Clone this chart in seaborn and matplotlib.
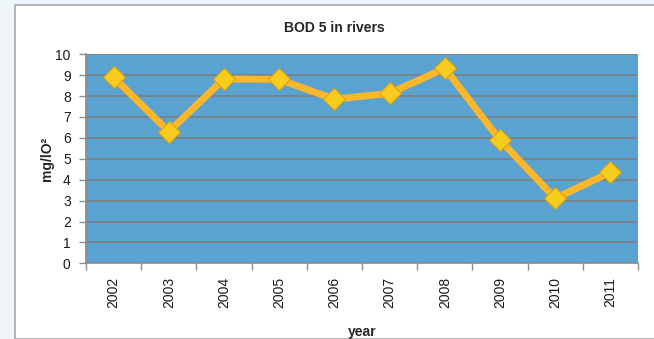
import matplotlib
matplotlib.use("Agg")
import matplotlib.pyplot as plt
from matplotlib.patches import Rectangle
from matplotlib.ticker import FixedLocator, NullFormatter
import seaborn as sns
import pandas as pd

years = ["2002", "2003", "2004", "2005", "2006", "2007", "2008", "2009", "2010", "2011"]
bod5 = [8.9, 6.3, 8.82, 8.8, 7.85, 8.13, 9.33, 5.9, 3.11, 4.35]
y_ticks = [0, 1, 2, 3, 4, 5, 6, 7, 8, 9, 10]

df = pd.DataFrame({"year": years, "bod": bod5})

sns.set_theme(style="white")
plt.rcParams["font.family"] = ["Liberation Sans", "DejaVu Sans"]

W, H = 654, 339
fig = plt.figure(figsize=(W / 100, H / 100), dpi=100)
fig.patch.set_facecolor("#eef6f9")

# white chart panel behind the axes
panel = Rectangle((15 / W, 0), 1.0, (H - 5) / H, transform=fig.transFigure,
                  facecolor="white", edgecolor="#a8a8a8", linewidth=1.2, zorder=-10)
fig.patches.append(panel)

ax = fig.add_axes([86 / W, (H - 263.3) / H, (638 - 86) / W, (263.3 - 54.3) / H])
ax.set_zorder(5)
ax.set_facecolor("#5aa2cf")

for v in y_ticks[1:]:
    ax.axhline(v, color="#7f7f7f", linewidth=1.2, zorder=1)

sns.lineplot(data=df, x="year", y="bod", ax=ax, color="#fcb72a", linewidth=5,
             marker="D", markersize=11, markerfacecolor="#f7cc1e",
             markeredgecolor="#dca212", markeredgewidth=0.8, zorder=3, sort=False)

ax.set_xlim(-0.5, len(years) - 0.5)
ax.set_ylim(0, 10)
ax.set_yticks(y_ticks)
ax.set_yticklabels([str(t) for t in y_ticks], fontsize=10)

ax.set_xticks(range(len(years)))
ax.set_xticklabels(years, rotation=90, fontsize=10)
ax.xaxis.set_minor_locator(FixedLocator([i - 0.5 for i in range(len(years) + 1)]))
ax.xaxis.set_minor_formatter(NullFormatter())
ax.tick_params(axis="x", which="major", length=0, pad=10, colors="#1a1a1a")
ax.tick_params(axis="x", which="minor", length=5, width=1, color="#8c8c8c", direction="out")
ax.tick_params(axis="y", length=5, width=1, color="#8c8c8c", direction="out", pad=6,
               labelcolor="#1a1a1a")
ax.tick_params(axis="x", which="both", bottom=True)
ax.tick_params(axis="y", left=True)

for side in ["top", "right"]:
    ax.spines[side].set_visible(False)
ax.spines["left"].set_color("#8c8c8c")
ax.spines["bottom"].set_color("#8c8c8c")

ax.set_xlabel("year", fontsize=10, fontweight="bold", labelpad=12)
ax.set_ylabel("mg/lO²", fontsize=10, fontweight="bold", labelpad=1)
fig.text(334.5 / W, 1 - 28 / H, "BOD 5 in rivers", fontsize=10, fontweight="bold",
         ha="center", va="center")

fig.savefig("out.png", dpi=100, facecolor=fig.get_facecolor())
